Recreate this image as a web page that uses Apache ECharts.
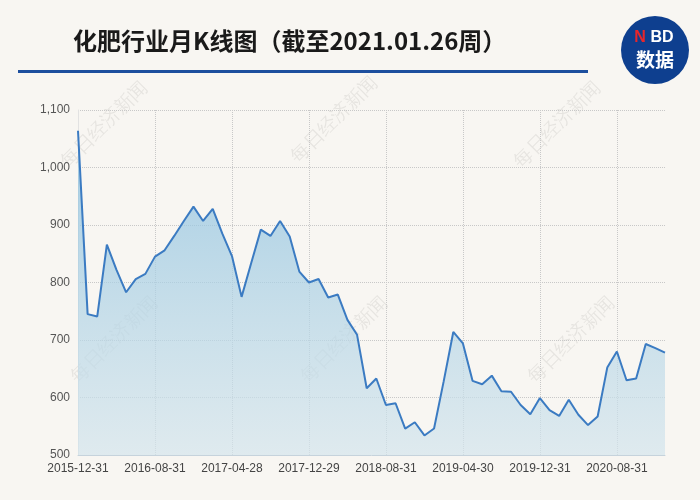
<!DOCTYPE html>
<html>
<head>
<meta charset="utf-8">
<script src="https://cdn.jsdelivr.net/npm/echarts@6/dist/echarts.min.js"></script>
<style>
html,body{margin:0;padding:0;background:#f8f6f2;}
#c{width:700px;height:500px;}
</style>
</head>
<body>
<div id="c"></div>
<script>
var titleText = '化肥行业月K线图（截至2021.01.26周）';
var categories = ['2015-12-31','2016-01-29','2016-02-29','2016-03-31','2016-04-29','2016-05-31','2016-06-30','2016-07-29','2016-08-31','2016-09-30','2016-10-31','2016-11-30','2016-12-30','2017-01-26','2017-02-28','2017-03-31','2017-04-28','2017-05-31','2017-06-30','2017-07-31','2017-08-31','2017-09-29','2017-10-31','2017-11-30','2017-12-29','2018-01-31','2018-02-28','2018-03-30','2018-04-27','2018-05-31','2018-06-29','2018-07-31','2018-08-31','2018-09-28','2018-10-31','2018-11-30','2018-12-28','2019-01-31','2019-02-28','2019-03-29','2019-04-30','2019-05-31','2019-06-28','2019-07-31','2019-08-30','2019-09-30','2019-10-31','2019-11-29','2019-12-31','2020-01-23','2020-02-28','2020-03-31','2020-04-30','2020-05-29','2020-06-30','2020-07-31','2020-08-31','2020-09-30','2020-10-30','2020-11-30','2020-12-31','2021-01-26'];
var values = [1064,745,741,866,822,783,806,815,845,856,881,907,932,907,928,885,846,775,834,892,881,907,880,819,800,806,774,779,735,709,616,633,587,590,546,557,534,546,628,714,694,629,623,638,611,610,587,571,599,578,568,596,570,552,567,652,680,630,633,693,686,678];
var yTicks = [500,600,700,800,900,1000,1100];

var chart = echarts.init(document.getElementById('c'));
var wmPos = [[105,125],[335,120],[558,125],[115,340],[345,340],[572,340],[120,555],[345,555],[572,555]];
var graphics = wmPos.map(function(p){
  return {type:'text', x:p[0], y:p[1], rotation:Math.PI/4, z:-1,
    style:{text:'每日经济新闻', font:'19px "DejaVu Serif", serif', fill:'rgba(0,0,0,0.07)', align:'center', verticalAlign:'middle'}};
});
graphics.push({type:'rect', shape:{x:18,y:70,width:570,height:3}, style:{fill:'#1d4f9e'}});
graphics.push({type:'circle', shape:{cx:655,cy:50,r:34}, style:{fill:'#0e3f8f'}});
graphics.push({type:'text', x:640, y:38, style:{text:'N', font:'bold 16px "Liberation Sans", Arial', fill:'#e8262b', align:'center', verticalAlign:'middle'}});
graphics.push({type:'text', x:662, y:38, style:{text:'BD', font:'bold 16px "Liberation Sans", Arial', fill:'#ffffff', align:'center', verticalAlign:'middle'}});
graphics.push({type:'text', x:655, y:60, style:{text:'数据', font:'bold 19px "Noto Sans CJK SC"', fill:'#ffffff', align:'center', verticalAlign:'middle'}});

chart.setOption({
  backgroundColor:'#f8f6f2',
  animation:false,
  title:{text:titleText, left:68, top:24, textStyle:{fontSize:24, fontWeight:'bold', color:'#1a1a1a', fontFamily:'"Noto Sans CJK SC", sans-serif'}},
  graphic:graphics,
  grid:{left:78, right:35, top:110, bottom:45},
  xAxis:{
    type:'category', boundaryGap:false, data:categories,
    axisLine:{show:true, lineStyle:{color:'#c6d3dc', width:1}},
    axisTick:{show:false},
    axisLabel:{interval:7, color:'#444', fontSize:12, margin:8, fontFamily:'"Liberation Sans", Arial'},
    splitLine:{show:true, interval:7, lineStyle:{type:'dotted', color:'#c8c8c8'}}
  },
  yAxis:{
    type:'value', min:yTicks[0], max:yTicks[yTicks.length-1], interval:100,
    axisLine:{show:true, lineStyle:{color:'#e2e2e2'}},
    axisTick:{show:false},
    axisLabel:{color:'#555', fontSize:12, margin:8, fontFamily:'"Liberation Sans", Arial',
      formatter:function(v){return v.toLocaleString('en-US');}},
    splitLine:{show:true, lineStyle:{type:'dotted', color:'#c8c8c8'}}
  },
  series:[{
    type:'line', data:values, symbol:'none', smooth:false,
    lineStyle:{color:'#3b7bc2', width:2},
    areaStyle:{color:new echarts.graphic.LinearGradient(0,0,0,1,[
      {offset:0,color:'rgb(130,188,222)'},
      {offset:0.55,color:'rgb(178,212,230)'},
      {offset:1,color:'rgb(212,229,237)'}])}
  }]
});
</script>
</body>
</html>
